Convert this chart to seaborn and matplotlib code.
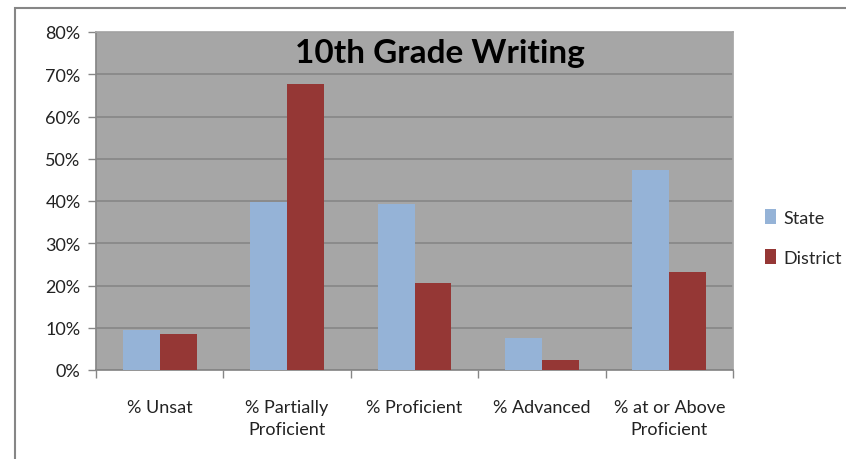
import matplotlib
matplotlib.use("Agg")
import matplotlib.pyplot as plt
from matplotlib.patches import Rectangle
from matplotlib.ticker import FixedLocator, FuncFormatter
import seaborn as sns
import pandas as pd

categories = ["% Unsat", "% Partially\nProficient", "% Proficient", "% Advanced",
              "% at or Above\nProficient"]
state = [9.5, 39.8, 39.3, 7.6, 47.4]
district = [8.6, 67.7, 20.5, 2.4, 23.3]
series = ["State", "District"]
colours = ["#95B3D7", "#953735"]

df = pd.DataFrame({
    "cat": categories * 2,
    "val": state + district,
    "series": [series[0]] * len(categories) + [series[1]] * len(categories),
})

sns.set_theme(style="white")
plt.rcParams["font.family"] = ["Lato", "DejaVu Sans"]

W, H = 846, 460
fig = plt.figure(figsize=(W / 100, H / 100), dpi=100)
# plot area in pixels: x 96..733, y 33..371
ax = fig.add_axes([96 / W, 1 - 371 / H, (733 - 96) / W, (371 - 33) / H])
ax.set_facecolor("#A6A6A6")

sns.barplot(data=df, x="cat", y="val", hue="series", palette=colours,
            width=0.58, saturation=1, gap=0, linewidth=0, ax=ax, zorder=3)

ax.set_ylim(0, 80)
ax.set_xlim(-0.5, len(categories) - 0.5)
ax.set_yticks(range(0, 81, 10))
ax.yaxis.set_major_formatter(FuncFormatter(lambda v, p: "%d%%" % v))
ax.grid(axis="y", color="#868686", linewidth=1.2, zorder=0)
ax.set_axisbelow(True)

ax.xaxis.set_minor_locator(FixedLocator([i - 0.5 for i in range(len(categories) + 1)]))
ax.tick_params(axis="x", which="major", length=0, pad=21, labelsize=13, colors="#222222")
ax.tick_params(axis="x", which="minor", length=6, width=1, color="#868686", bottom=True)
ax.tick_params(axis="y", length=6, width=1, color="#868686", left=True, labelsize=13,
               colors="#222222", pad=5)
for lbl in ax.get_yticklabels():
    lbl.set_color("#222222")
for lbl in ax.get_xticklabels():
    lbl.set_linespacing(1.45)
ax.set_xlabel("")
ax.set_ylabel("")

for side in ["top", "right"]:
    ax.spines[side].set_visible(True)
    ax.spines[side].set_color("#A6A6A6")
ax.spines["left"].set_color("#868686")
ax.spines["bottom"].set_color("#868686")

ax.text(0.54, (371 - 63) / 338, "10th Grade Writing", transform=ax.transAxes,
        ha="center", va="baseline", fontsize=24, fontweight="bold", color="black")

leg = ax.legend(loc="center left", bbox_to_anchor=(1.025, 0.392), frameon=False,
                fontsize=13, handlelength=0.6, handleheight=0.9, labelspacing=1.3,
                handletextpad=0.4)

# outer chart border
fig.patches.append(Rectangle((15 / W, -0.1), 1.2, 1 - 9 / H + 0.1,
                             transform=fig.transFigure, fill=False,
                             edgecolor="#868686", linewidth=1.5))

fig.savefig("out.png", dpi=100, facecolor="white")
